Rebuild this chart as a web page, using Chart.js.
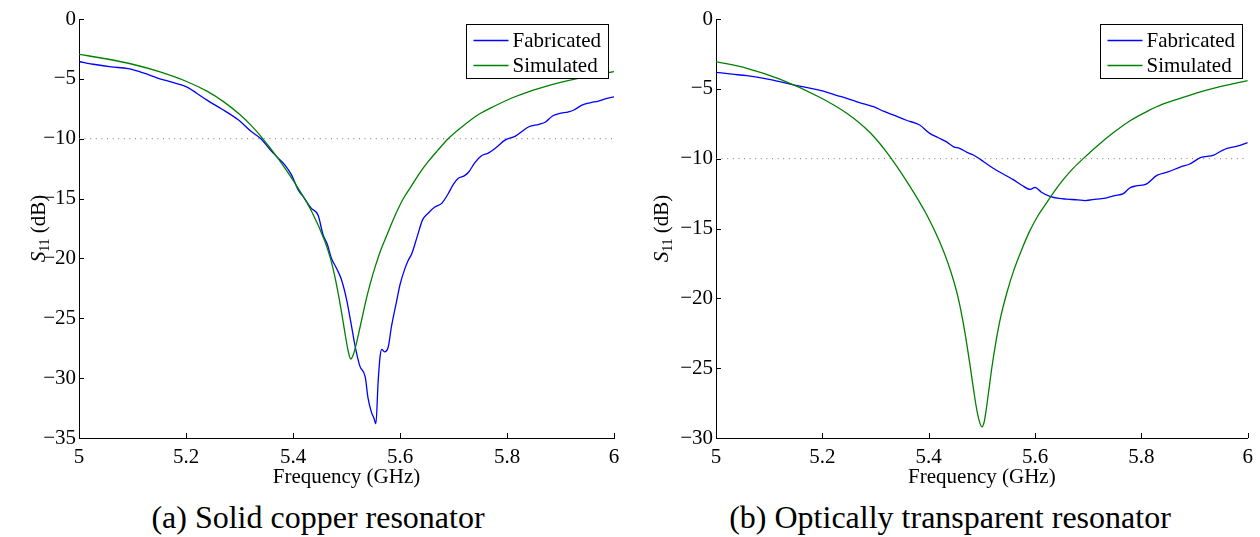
<!DOCTYPE html>
<html>
<head>
<meta charset="utf-8">
<script src="https://cdn.jsdelivr.net/npm/chart.js@4.4.0/dist/chart.umd.min.js"></script>
<style>
body{margin:0;background:#fff;width:1260px;height:537px;overflow:hidden;position:relative;}
.panel{position:absolute;top:0;}
.caption{position:absolute;top:499px;line-height:36px;font-family:"Liberation Serif","Times New Roman",serif;font-size:32px;color:#000;white-space:nowrap;transform:translateX(-50%);}
</style>
</head>
<body>
<div class="panel" style="left:0"><canvas id="chartA" width="640" height="490"></canvas></div>
<div class="panel" style="left:640px"><canvas id="chartB" width="620" height="490"></canvas></div>
<div class="caption" style="left:318px">(a) Solid copper resonator</div>
<div class="caption" style="left:950px">(b) Optically transparent resonator</div>

<script>
// Tick labels
const xTicks = [5, 5.2, 5.4, 5.6, 5.8, 6];
const yTicksA = [-35, -30, -25, -20, -15, -10, -5, 0];
const yTicksB = [-30, -25, -20, -15, -10, -5, 0];
const thresholdDb = -10;

// (a) Solid copper resonator - measured
const fabFreqA = [5.000, 5.030, 5.060, 5.092, 5.120, 5.148, 5.175, 5.200, 5.220, 5.240, 5.266, 5.297, 5.322, 5.340,
  5.357, 5.372, 5.385, 5.397, 5.410, 5.420, 5.434, 5.447, 5.456, 5.464, 5.472, 5.481, 5.490, 5.500, 5.508, 5.516,
  5.525, 5.535, 5.540, 5.547, 5.551, 5.555, 5.559, 5.563, 5.566, 5.571, 5.578, 5.584, 5.594, 5.600, 5.608, 5.615,
  5.622, 5.632, 5.642, 5.653, 5.665, 5.678, 5.690, 5.700, 5.709, 5.720, 5.728, 5.740, 5.753, 5.765, 5.778, 5.797,
  5.815, 5.841, 5.860, 5.872, 5.885, 5.897, 5.915, 5.925, 5.940, 5.955, 5.971, 5.985, 6.000];
const fabDbA = [-3.55, -3.8, -4.0, -4.15, -4.5, -4.95, -5.3, -5.65, -6.2, -6.8, -7.5, -8.4, -9.4, -10.0,
  -10.9, -11.6, -12.2, -13.0, -14.3, -14.9, -15.8, -16.4, -18.0, -18.8, -20.0, -20.8, -21.7, -23.4, -25.3, -27.3,
  -29.0, -29.9, -31.6, -32.9, -33.3, -33.8, -30.4, -28.1, -27.6, -27.8, -27.4, -25.7, -23.5, -22.2, -21.0, -20.2,
  -19.6, -18.2, -16.8, -16.2, -15.7, -15.4, -14.6, -13.8, -13.3, -13.1, -12.8, -12.0, -11.4, -11.2, -10.8, -10.1,
  -9.8, -9.0, -8.8, -8.6, -8.1, -7.9, -7.75, -7.6, -7.2, -7.0, -6.85, -6.65, -6.5];

// (a) Solid copper resonator - simulated
const simFreqA = [5.000, 5.050, 5.100, 5.150, 5.200, 5.240, 5.270, 5.300, 5.320, 5.338, 5.355, 5.372, 5.390, 5.409,
  5.434, 5.459, 5.470, 5.480, 5.490, 5.497, 5.503, 5.508, 5.513, 5.518, 5.524, 5.530, 5.537, 5.545, 5.555, 5.565,
  5.575, 5.591, 5.605, 5.622, 5.637, 5.653, 5.670, 5.690, 5.716, 5.746, 5.778, 5.809, 5.840, 5.871, 5.900, 5.933,
  5.966, 6.000];
const simDbA = [-2.95, -3.32, -3.78, -4.4, -5.2, -6.05, -6.9, -7.95, -8.8, -9.7, -10.65, -11.65, -12.8, -14.1,
  -16.0, -18.5, -20.0, -21.9, -24.3, -26.2, -27.7, -28.4, -28.0, -27.2, -26.0, -24.8, -23.4, -22.0, -20.5, -19.2,
  -18.1, -16.4, -15.1, -13.9, -12.85, -11.9, -11.0, -10.0, -9.0, -8.0, -7.25, -6.6, -6.08, -5.65, -5.3, -4.96,
  -4.67, -4.4];

// (b) Optically transparent resonator - measured
const fabFreqB = [5.000, 5.030, 5.058, 5.090, 5.120, 5.150, 5.183, 5.202, 5.225, 5.246, 5.270, 5.296, 5.315, 5.333,
  5.358, 5.383, 5.402, 5.418, 5.433, 5.447, 5.458, 5.472, 5.484, 5.497, 5.510, 5.522, 5.540, 5.559, 5.575, 5.591,
  5.600, 5.612, 5.628, 5.645, 5.660, 5.680, 5.694, 5.715, 5.735, 5.750, 5.766, 5.778, 5.790, 5.810, 5.829, 5.850,
  5.873, 5.890, 5.911, 5.936, 5.950, 5.961, 5.980, 6.000];
const fabDbB = [-3.82, -3.95, -4.06, -4.25, -4.49, -4.75, -5.0, -5.16, -5.45, -5.68, -5.98, -6.28, -6.6, -6.87,
  -7.25, -7.59, -8.19, -8.5, -8.78, -9.15, -9.26, -9.55, -9.74, -10.05, -10.4, -10.7, -11.1, -11.5, -11.9, -12.2,
  -12.05, -12.4, -12.7, -12.85, -12.9, -12.95, -13.0, -12.9, -12.8, -12.65, -12.5, -12.1, -11.95, -11.8, -11.2, -10.95,
  -10.6, -10.4, -9.93, -9.74, -9.45, -9.26, -9.1, -8.85];

// (b) Optically transparent resonator - simulated
const simFreqB = [5.000, 5.058, 5.120, 5.195, 5.246, 5.290, 5.327, 5.365, 5.396, 5.420, 5.440, 5.455, 5.467, 5.477,
  5.485, 5.491, 5.496, 5.500, 5.504, 5.508, 5.513, 5.519, 5.526, 5.535, 5.547, 5.560, 5.575, 5.591, 5.606, 5.622,
  5.637, 5.653, 5.672, 5.691, 5.718, 5.747, 5.778, 5.810, 5.840, 5.873, 5.903, 5.935, 5.967, 6.000];
const simDbB = [-3.05, -3.53, -4.3, -5.6, -6.75, -8.15, -9.85, -12.0, -14.0, -15.9, -17.9, -19.9, -22.2, -24.6,
  -26.7, -28.1, -28.9, -29.2, -28.9, -28.0, -26.6, -24.9, -23.2, -21.4, -19.6, -18.0, -16.5, -15.1, -14.05, -13.15,
  -12.3, -11.5, -10.68, -9.98, -9.05, -8.15, -7.3, -6.63, -6.1, -5.68, -5.3, -4.96, -4.68, -4.42];

const serif = '"Liberation Serif", "Times New Roman", serif';

function pts(fx, fy){
  return fx.map((f, i) => ({x: f, y: fy[i]}));
}
function fmtX(v){ return String(Number(v.toFixed(1))); }
function fmtY(v){ return String(v).replace('-', '\u2212'); }

// MATLAB look: inward ticks, S11 axis title, boxed legend
const matlabStyle = {
  id: 'matlabStyle',
  afterDraw(chart, args, opts){
    const {ctx, chartArea: a, scales: {x, y}} = chart;
    ctx.save();
    ctx.strokeStyle = '#000';
    ctx.lineWidth = 1;
    ctx.beginPath();
    x.ticks.forEach(t => {
      const px = Math.round(x.getPixelForValue(t.value)) + 0.5;
      ctx.moveTo(px, a.bottom); ctx.lineTo(px, a.bottom - 5);
    });
    y.ticks.forEach(t => {
      const py = Math.round(y.getPixelForValue(t.value)) + 0.5;
      ctx.moveTo(a.left, py); ctx.lineTo(a.left + 5, py);
    });
    ctx.stroke();

    // y title: S11 (dB)
    ctx.translate(opts.titleX, (a.top + a.bottom) / 2);
    ctx.rotate(-Math.PI / 2);
    ctx.fillStyle = '#000';
    ctx.textBaseline = 'alphabetic';
    const big = '21px ' + serif, itBig = 'italic 21px ' + serif, small = '14px ' + serif;
    ctx.font = itBig; const wS = ctx.measureText('S').width;
    ctx.font = small; const w11 = ctx.measureText('11').width;
    ctx.font = big; const wDb = ctx.measureText(' (dB)').width;
    let cx = -(wS + w11 + wDb) / 2;
    ctx.font = itBig; ctx.fillText('S', cx, 7); cx += wS;
    ctx.font = small; ctx.fillText('11', cx, 11); cx += w11;
    ctx.font = big; ctx.fillText(' (dB)', cx, 7);
    ctx.setTransform(1, 0, 0, 1, 0, 0);

    // legend box
    const bw = 142, bh = 54;
    const bx = Math.round(a.right - 6 - bw) + 0.5, by = Math.round(a.top + 5) + 0.5;
    ctx.fillStyle = '#fff';
    ctx.fillRect(bx, by, bw, bh);
    ctx.strokeStyle = '#000';
    ctx.strokeRect(bx, by, bw, bh);
    ctx.font = '21px ' + serif;
    ctx.textBaseline = 'middle';
    chart.data.datasets.filter(d => d.label).forEach((d, i) => {
      const ry = by + 16 + i * 25;
      ctx.strokeStyle = d.borderColor;
      ctx.lineWidth = 1.3;
      ctx.beginPath(); ctx.moveTo(bx + 7, ry); ctx.lineTo(bx + 42, ry); ctx.stroke();
      ctx.fillStyle = '#000';
      ctx.fillText(d.label, bx + 46, ry + 1);
    });
    ctx.restore();
  }
};

function makeChart(id, fabF, fabD, simF, simD, yTicks, yWidth, padRight, titleX){
  const line = {pointRadius: 0, borderWidth: 1.3, cubicInterpolationMode: 'monotone', fill: false};
  return new Chart(document.getElementById(id), {
    type: 'line',
    data: {
      datasets: [
        Object.assign({label: 'Fabricated', data: pts(fabF, fabD), borderColor: '#0000ff', order: 1}, line),
        Object.assign({label: 'Simulated', data: pts(simF, simD), borderColor: '#008000', order: 0}, line),
        {label: '', data: [{x: xTicks[0], y: thresholdDb}, {x: xTicks[xTicks.length - 1], y: thresholdDb}],
         borderColor: '#777', borderWidth: 1, borderDash: [1, 4.6], pointRadius: 0, order: 2}
      ]
    },
    options: {
      responsive: false,
      animation: false,
      layout: {padding: {top: 19, right: padRight, left: 0, bottom: 0}},
      scales: {
        x: {
          type: 'linear',
          min: xTicks[0], max: xTicks[xTicks.length - 1],
          afterBuildTicks: s => { s.ticks = xTicks.map(v => ({value: v})); },
          afterFit: s => { s.height = 52; },
          grid: {display: false, drawTicks: false},
          border: {display: true, color: '#000', width: 1},
          ticks: {font: {family: serif, size: 21}, color: '#000', padding: 7, maxRotation: 0, autoSkip: false, callback: v => fmtX(v)},
          title: {display: true, text: 'Frequency (GHz)', font: {family: serif, size: 21}, color: '#000', padding: {top: 0, bottom: 0}}
        },
        y: {
          type: 'linear',
          min: yTicks[0], max: yTicks[yTicks.length - 1],
          afterBuildTicks: s => { s.ticks = yTicks.map(v => ({value: v})); },
          afterFit: s => { s.width = yWidth; },
          grid: {display: false, drawTicks: false},
          border: {display: true, color: '#000', width: 1},
          ticks: {font: {family: serif, size: 21}, color: '#000', padding: 3, callback: v => fmtY(v)}
        }
      },
      plugins: {
        legend: {display: false},
        tooltip: {enabled: false},
        matlabStyle: {titleX: titleX}
      }
    },
    plugins: [matlabStyle]
  });
}

makeChart('chartA', fabFreqA, fabDbA, simFreqA, simDbA, yTicksA, 79, 26, 38);
makeChart('chartB', fabFreqB, fabDbB, simFreqB, simDbB, yTicksB, 76, 12, 21);
</script>
</body>
</html>
